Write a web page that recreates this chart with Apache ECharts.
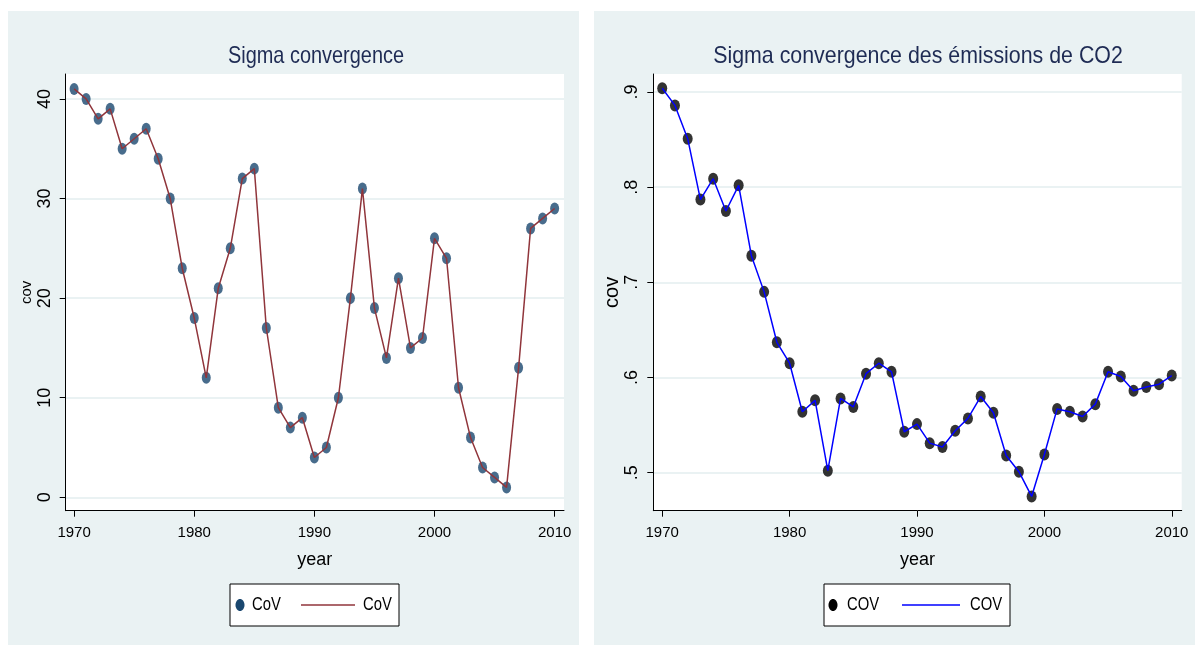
<!DOCTYPE html>
<html>
<head>
<meta charset="utf-8">
<script src="https://cdn.jsdelivr.net/npm/echarts@6/dist/echarts.min.js"></script>
<style>
  html, body { margin: 0; padding: 0; background: #fff; }
  #chart { width: 1195px; height: 647px; }
</style>
</head>
<body>
<div id="chart"></div>
<script>
// data
const years = [];
for (let y = 1970; y <= 2010; y++) years.push(y);

const covLeft = [41, 40, 38, 39, 35, 36, 37, 34, 30, 23, 18, 12, 21, 25, 32, 33, 17, 9, 7, 8,
  4, 5, 10, 20, 31, 19, 14, 22, 15, 16, 26, 24, 11, 6, 3, 2, 1, 13, 27, 28, 29];

const covRight = [0.904, 0.886, 0.851, 0.787, 0.809, 0.775, 0.802, 0.728, 0.690, 0.637, 0.615,
  0.564, 0.576, 0.502, 0.578, 0.569, 0.604, 0.615, 0.606, 0.543, 0.551, 0.531, 0.527, 0.544,
  0.557, 0.580, 0.563, 0.518, 0.501, 0.475, 0.519, 0.567, 0.564, 0.559, 0.572, 0.606, 0.601,
  0.586, 0.590, 0.593, 0.602];

const xTicks = [1970, 1980, 1990, 2000, 2010];
const yTicksLeft = [0, 10, 20, 30, 40];
const yTicksRight = [0.5, 0.6, 0.7, 0.8, 0.9];
const yLabelsRight = ['.5', '.6', '.7', '.8', '.9'];

const FONT = "'Liberation Sans Narrow', 'Liberation Sans', sans-serif";
const BG = '#eaf2f3';

const pairs = (vals) => years.map((y, i) => [y, vals[i]]);

function xAxis(gridIndex) {
  return {
    type: 'value', gridIndex: gridIndex, min: 1969.3, max: 2010.78,
    name: 'year', nameLocation: 'middle', nameGap: 40,
    nameTextStyle: { fontFamily: FONT, fontSize: 18, color: '#000' },
    axisLine: { show: true, onZero: false, lineStyle: { color: '#000', width: 1 } },
    axisTick: { show: true, length: 6, customValues: xTicks, lineStyle: { color: '#000' } },
    axisLabel: { customValues: xTicks, margin: 15, fontFamily: FONT, fontSize: 15, color: '#000',
      formatter: (v) => String(v) },
    splitLine: { show: false }
  };
}

function yAxis(gridIndex, min, max, ticks, fmt, nameSize, nameGap) {
  return {
    type: 'value', gridIndex: gridIndex, min: min, max: max,
    name: 'cov', nameLocation: 'middle', nameGap: nameGap, nameRotate: 90,
    nameTextStyle: { fontFamily: FONT, fontSize: nameSize, color: '#000' },
    axisLine: { show: true, onZero: false, lineStyle: { color: '#000', width: 1 } },
    axisTick: { show: true, length: 6, customValues: ticks, lineStyle: { color: '#000' } },
    axisLabel: { customValues: ticks, rotate: 90, margin: 12, fontFamily: FONT, fontSize: 18,
      color: '#000', formatter: fmt },
    splitLine: { show: true, lineStyle: { color: BG, width: 2 } }
  };
}

function titleText(text, cx, sx) {
  return { type: 'text', x: cx, y: 56, scaleX: sx, originX: 0,
    style: { text: text, fontFamily: FONT, fontSize: 24, fill: '#1e2b54',
      align: 'center', verticalAlign: 'middle' } };
}

// legend drawn as graphic group (box, marker, line sample, texts)
function legendBox(x, w, dotColor, lineColor, label, p) {
  const txt = (tx) => ({ type: 'text', x: tx, y: 21, scaleX: 0.78,
    style: { text: label, fontFamily: FONT, fontSize: 19, fill: '#000', verticalAlign: 'middle' } });
  return {
    type: 'group', x: x, y: 584,
    children: [
      { type: 'rect', shape: { x: 0, y: 0, width: w, height: 42 },
        style: { fill: '#fff', stroke: '#000', lineWidth: 1 } },
      { type: 'ellipse', shape: { cx: p[0], cy: 21, rx: 4.5, ry: 6 }, style: { fill: dotColor } },
      txt(p[1]),
      { type: 'line', shape: { x1: p[2], y1: 21, x2: p[3], y2: 21 },
        style: { stroke: lineColor, lineWidth: 1.6 } },
      txt(p[4])
    ]
  };
}

const option = {
  animation: false,
  backgroundColor: '#fff',
  graphic: [
    { type: 'rect', z: -10, shape: { x: 8, y: 11, width: 571, height: 634 }, style: { fill: BG } },
    { type: 'rect', z: -10, shape: { x: 594, y: 11, width: 601, height: 634 }, style: { fill: BG } },
    titleText('Sigma convergence', 316, 0.83),
    titleText('Sigma convergence des émissions de CO2', 918, 0.89),
    legendBox(230, 169, '#1a476f', '#90353b', 'CoV', [10, 22, 71, 125, 133]),
    legendBox(824, 186, '#000', '#0000ff', 'COV', [9, 23, 78, 136, 146])
  ],
  grid: [
    { left: 65.7, top: 74, width: 498.3, height: 436.7, show: true, backgroundColor: '#fff', borderWidth: 0 },
    { left: 653.3, top: 74, width: 528.4, height: 436.7, show: true, backgroundColor: '#fff', borderWidth: 0 }
  ],
  xAxis: [xAxis(0), xAxis(1)],
  yAxis: [
    yAxis(0, -1.34, 42.5, yTicksLeft, (v) => String(v), 15, 23),
    yAxis(1, 0.46, 0.919, yTicksRight, (v) => yLabelsRight[yTicksRight.indexOf(+v.toFixed(1))] || '', 20, 29)
  ],
  series: [
    { type: 'scatter', name: 'CoV', xAxisIndex: 0, yAxisIndex: 0, data: pairs(covLeft),
      symbol: 'circle', symbolSize: [9, 12], itemStyle: { color: '#1a476f' } },
    { type: 'line', name: 'CoV', xAxisIndex: 0, yAxisIndex: 0, data: pairs(covLeft),
      showSymbol: false, lineStyle: { color: '#90353b', width: 1.5 } },
    { type: 'scatter', name: 'COV', xAxisIndex: 1, yAxisIndex: 1, data: pairs(covRight),
      symbol: 'circle', symbolSize: [10, 12], itemStyle: { color: '#000' } },
    { type: 'line', name: 'COV', xAxisIndex: 1, yAxisIndex: 1, data: pairs(covRight),
      showSymbol: false, lineStyle: { color: '#0000ff', width: 1.5 } }
  ]
};

echarts.init(document.getElementById('chart')).setOption(option);
</script>
</body>
</html>
